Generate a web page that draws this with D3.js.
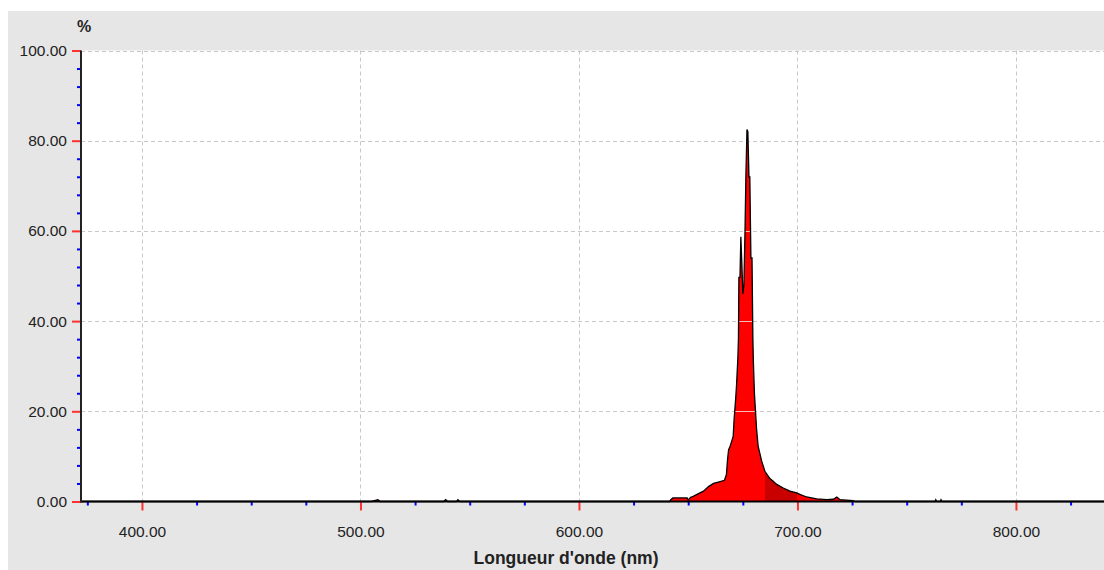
<!DOCTYPE html>
<html>
<head>
<meta charset="utf-8">
<script src="https://cdn.jsdelivr.net/npm/d3@7"></script>
<style>
  body { margin: 0; background: #fff; }
  svg text { font-family: "Liberation Sans", Arial, sans-serif; fill: #222; }
</style>
</head>
<body>
<svg id="chart" width="1104" height="570"></svg>
<script>
// spectrum (nm, %)
const wavelengths = [372, 505, 508, 509, 538, 539, 540, 544, 544.6, 545.5, 641.5, 642, 643, 645, 648, 649.5, 650, 651, 652.5, 654.5,
  657, 659.3, 661.6, 663.8, 666.6, 667.5, 668, 668.5, 669, 670, 670.6, 671, 671.7, 672.1, 672.7, 673.0, 673.2, 673.7, 674.1, 674.6,
  675.0, 675.5, 676.0, 676.4, 676.9, 677.3, 677.8, 678.2, 678.7, 679.2, 679.6, 679.8, 680.3, 681.3, 682, 683.6, 685.1, 687.4, 688.9, 690.5,
  693.5, 696.6, 699.6, 701.1, 704.2, 708.8, 713.4, 716.5, 718, 719.5, 722.5, 725.5, 726.5, 763, 763.3, 763.8, 765.4, 765.7, 766.2, 841];
const values = [0, 0, 0.4, 0, 0, 0.4, 0, 0, 0.4, 0, 0, 0.4, 0.8, 0.8, 0.8, 0.8, 0.3, 0.9, 1.2, 1.7,
  2.3, 3.3, 4.0, 4.3, 4.7, 6.0, 9.3, 11.5, 12.0, 13.5, 14.5, 18.2, 22.6, 25.6, 31.5, 36, 49.7, 49.7, 58.7, 52,
  46, 48, 60, 72, 82.5, 82, 72, 72, 54, 54, 36, 31.5, 24, 16, 12.3, 9.0, 6.7, 5.1, 4.5, 3.8,
  3.0, 2.3, 1.9, 1.6, 1.0, 0.6, 0.4, 0.5, 1.0, 0.4, 0.3, 0.2, 0, 0, 0.4, 0, 0, 0.4, 0, 0];

const xMajorTicks = [400, 500, 600, 700, 800];
const xMinorTicks = [375, 425, 450, 475, 525, 550, 575, 625, 650, 675, 725, 750, 775, 825];
const yMajorTicks = [0, 20, 40, 60, 80, 100];
const yMinorTicks = [4, 8, 12, 16, 24, 28, 32, 36, 44, 48, 52, 56, 64, 68, 72, 76, 84, 88, 92, 96];
const darkBand = [685, 700];

const svg = d3.select("#chart");
const pL = 81, pR = 1104, pT = 50.5, pB = 501.5;

// grey panel with white margin at top/left
svg.append("rect").attr("x", 8).attr("y", 11).attr("width", 1096).attr("height", 559).attr("fill", "#e6e6e6");
svg.append("rect").attr("x", pL).attr("y", pT).attr("width", pR - pL).attr("height", pB - pT).attr("fill", "#fff");

const x = d3.scaleLinear().domain([372.1, 840.3]).range([pL, pR]);
const y = d3.scaleLinear().domain([0, 100]).range([pB, pT]);
const fmt = d3.format(".2f");

// grid
svg.append("g").selectAll("line").data(xMajorTicks).join("line")
  .attr("x1", d => Math.round(x(d)) + 0.5).attr("x2", d => Math.round(x(d)) + 0.5)
  .attr("y1", pT).attr("y2", pB)
  .attr("stroke", "#c8c8c8").attr("stroke-dasharray", "4,3");
svg.append("g").selectAll("line").data(yMajorTicks.filter(d => d > 0)).join("line")
  .attr("x1", pL).attr("x2", pR)
  .attr("y1", d => Math.round(y(d)) + 0.5).attr("y2", d => Math.round(y(d)) + 0.5)
  .attr("stroke", "#c8c8c8").attr("stroke-dasharray", "4,3");

const data = wavelengths.map((w, i) => [w, values[i]]);

// wavelength colouring of the fill
const defs = svg.append("defs");
const grad = defs.append("linearGradient").attr("id", "wl")
  .attr("gradientUnits", "userSpaceOnUse")
  .attr("x1", pL).attr("x2", pR).attr("y1", 0).attr("y2", 0);
const t1 = (x(darkBand[0]) - pL) / (pR - pL), t2 = (x(darkBand[1]) - pL) / (pR - pL);
[[0, "#ff0000"], [t1, "#ff0000"], [t1, "#c80000"], [t2, "#c80000"], [t2, "#ff0000"], [1, "#ff0000"]]
  .forEach(s => grad.append("stop").attr("offset", s[0]).attr("stop-color", s[1]));

const area = d3.area().x(d => x(d[0])).y0(y(0)).y1(d => y(d[1]));
const line = d3.line().x(d => x(d[0])).y(d => y(d[1]));

svg.append("path").datum(data).attr("d", area).attr("fill", "url(#wl)");

// light grid lines seen through the fill
defs.append("clipPath").attr("id", "fillclip")
  .append("path").datum(data).attr("d", area);
svg.append("g").attr("clip-path", "url(#fillclip)")
  .selectAll("line").data(yMajorTicks.filter(d => d > 0)).join("line")
  .attr("x1", pL).attr("x2", pR)
  .attr("y1", d => Math.round(y(d)) + 0.5).attr("y2", d => Math.round(y(d)) + 0.5)
  .attr("stroke", "#ffb8b8");

svg.append("path").datum(data).attr("d", line)
  .attr("fill", "none").attr("stroke", "#000").attr("stroke-width", 1.3);

// x axis
const gx = svg.append("g").attr("transform", `translate(0,${pB})`);
gx.append("g").call(d3.axisBottom(x).tickValues(xMinorTicks).tickSize(4).tickFormat(""))
  .call(g => g.select(".domain").remove())
  .call(g => g.selectAll("line").attr("stroke", "#0000ff").attr("stroke-width", 2));
gx.append("g").call(d3.axisBottom(x).tickValues(xMajorTicks).tickSize(9).tickFormat(fmt))
  .call(g => g.select(".domain").remove())
  .call(g => g.selectAll("line").attr("stroke", "#ff3030").attr("stroke-width", 2))
  .call(g => g.selectAll("text").attr("y", 35).attr("dy", null).attr("font-size", 15.5).attr("fill", "#222"));
gx.append("line").attr("x1", pL - 1).attr("x2", pR).attr("stroke", "#000").attr("stroke-width", 2);

// y axis
const gy = svg.append("g").attr("transform", `translate(${pL},0)`);
gy.append("g").call(d3.axisLeft(y).tickValues(yMinorTicks).tickSize(4).tickFormat(""))
  .call(g => g.select(".domain").remove())
  .call(g => g.selectAll("line").attr("stroke", "#0000ff").attr("stroke-width", 2));
gy.append("g").call(d3.axisLeft(y).tickValues(yMajorTicks).tickSize(9).tickFormat(fmt))
  .call(g => g.select(".domain").remove())
  .call(g => g.selectAll("line").attr("stroke", "#ff3030").attr("stroke-width", 2))
  .call(g => g.selectAll("text").attr("x", -14).attr("font-size", 15.5).attr("fill", "#222"));
gy.append("line").attr("y1", pT).attr("y2", pB + 1).attr("stroke", "#222").attr("stroke-width", 2);

// titles
svg.append("text").attr("x", 84).attr("y", 32).attr("text-anchor", "middle")
  .attr("font-size", 16).attr("font-weight", "bold").text("%");
svg.append("text").attr("x", 566).attr("y", 564).attr("text-anchor", "middle")
  .attr("font-size", 17.5).attr("font-weight", "bold").text("Longueur d'onde (nm)");
</script>
</body>
</html>
